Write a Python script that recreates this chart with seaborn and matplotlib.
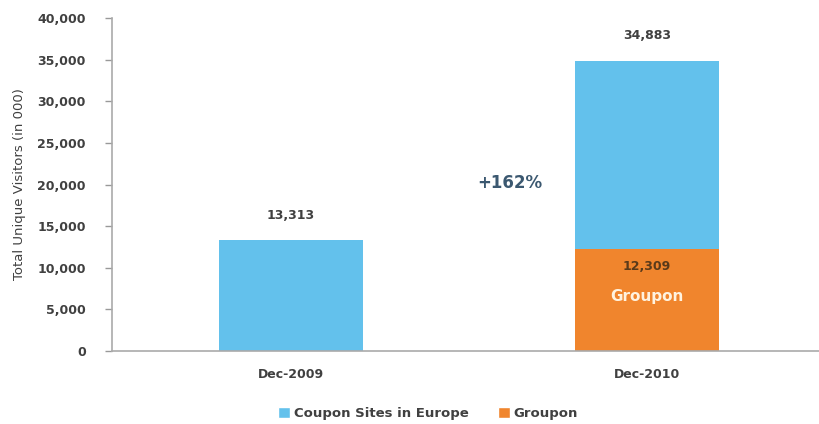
import matplotlib
matplotlib.use("Agg")
import matplotlib.pyplot as plt
import seaborn as sns
import pandas as pd
import numpy as np
from matplotlib.patches import Patch

categories = ["Dec-2009", "Dec-2010"]
groupon = [0, 12309]
coupon_other = [13313, 22574]
totals = [13313, 34883]
yticks = [0, 5000, 10000, 15000, 20000, 25000, 30000, 35000, 40000]

BLUE = "#63C1EC"
ORANGE = "#F0852D"

sns.set_theme(style="white")
plt.rcParams['font.family'] = ['DejaVu Sans']

fig = plt.figure(figsize=(8.19, 4.24), dpi=100)
ax = fig.add_axes([0.1368, 0.172, 0.8632, 0.7855])

df_total = pd.DataFrame({"cat": categories, "val": totals})
df_g = pd.DataFrame({"cat": categories, "val": groupon})
sns.barplot(data=df_total, x="cat", y="val", color=BLUE, width=0.404, ax=ax,
            saturation=1, linewidth=0)
sns.barplot(data=df_g, x="cat", y="val", color=ORANGE, width=0.404, ax=ax,
            saturation=1, linewidth=0)

ax.set_xlim(-0.503, 1.483)
ax.set_ylim(0, 40000)
ax.set_yticks(yticks)
ax.set_yticklabels([f"{v:,}" for v in yticks], fontsize=9, fontweight="bold", color="#404040")
ax.set_xticks([0, 1])
ax.set_xticklabels(categories, fontsize=9, fontweight="bold", color="#404040")
ax.tick_params(axis="y", length=5, width=1, color="#999999", direction="out", pad=14, left=True)
ax.tick_params(axis="x", length=0, pad=12)
ax.set_xlabel("")
ax.set_ylabel("Total Unique Visitors (in 000)", fontsize=9.5, color="#404040", labelpad=8)

for s in ["top", "right"]:
    ax.spines[s].set_visible(False)
for s in ["left", "bottom"]:
    ax.spines[s].set_color("#AAAAAA")
    ax.spines[s].set_linewidth(1.2)

for i, t in enumerate(totals):
    ax.text(i, t + 2200, f"{t:,}", ha="center", va="bottom", fontsize=9,
            fontweight="bold", color="#404040")

ax.text(1, groupon[1] - 2200, f"{groupon[1]:,}", ha="center", va="center",
        fontsize=9, fontweight="bold", color="#5a3a1a")
ax.text(1, groupon[1] - 5800, "Groupon", ha="center", va="center",
        fontsize=11, fontweight="bold", color="#FFF3E0")

ax.text(0.615, 20200, "+162%", ha="center", va="center", fontsize=12,
        fontweight="bold", color="#3B5870")

handles = [Patch(facecolor=BLUE, label="Coupon Sites in Europe"),
           Patch(facecolor=ORANGE, label="Groupon")]
fig.legend(handles=handles, loc="center", bbox_to_anchor=(0.523, 0.025), ncol=2,
           frameon=False, prop={"size": 9.5, "weight": "bold"}, handlelength=0.9,
           handleheight=0.9, handletextpad=0.3, columnspacing=2.2, labelcolor="#404040")

fig.savefig("out.png", dpi=100)
